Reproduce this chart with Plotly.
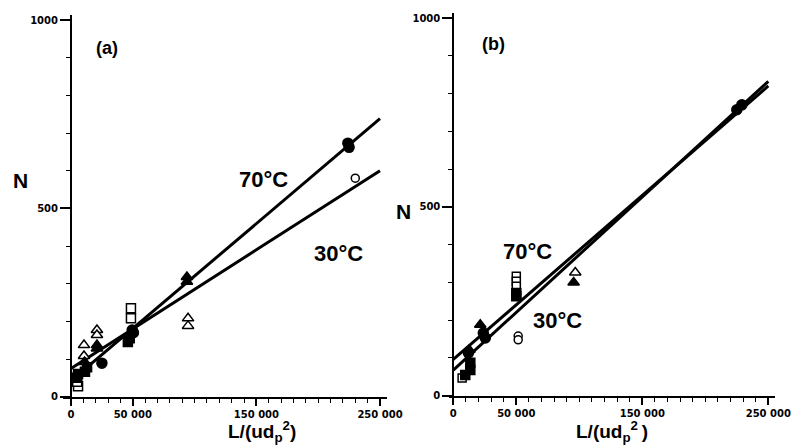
import plotly.graph_objects as go

W, H = 793, 447

# ---------------- data: panel (a) ----------------
a_fit_x = [0, 250000]
a_fit_70 = [42, 738]
a_fit_30 = [75, 600]
a_fill_circle_x = [224000, 225000, 49500, 50500, 25000]
a_fill_circle_y = [673, 662, 177, 170, 89]
a_open_circle_x = [230000]
a_open_circle_y = [580]
a_fill_square_x = [46000, 47500, 11300, 13000, 4800, 5700]
a_fill_square_y = [145, 155, 66, 78, 50, 60]
a_open_square_x = [48500, 48500, 5700, 5000]
a_open_square_y = [235, 208, 28, 40]
a_open_tri_x = [21000, 21000, 10500, 10500, 94700, 94700]
a_open_tri_y = [177, 164, 137, 108, 208, 188]
a_fill_tri_x = [93800, 93800, 21000, 21000, 11000]
a_fill_tri_y = [318, 305, 137, 128, 92]

# ---------------- data: panel (b) ----------------
b_fit_x = [0, 250000]
b_fit_70 = [96, 820]
b_fit_30 = [68, 832]
b_fill_circle_x = [225000, 229000, 25400, 23800, 12000]
b_fill_circle_y = [757, 770, 153, 166, 113]
b_open_circle_x = [51500, 51500]
b_open_circle_y = [158, 148]
b_open_square_x = [50000, 50000, 50000, 7000]
b_open_square_y = [316, 303, 290, 47]
b_fill_square_x = [50000, 50000, 13500, 13500, 9500]
b_fill_square_y = [272, 263, 68, 87, 55]
b_open_tri_x = [96800]
b_open_tri_y = [326]
b_fill_tri_x = [95500, 21400, 12700]
b_fill_tri_y = [300, 188, 121]

x_tickvals = [0, 50000, 150000, 250000]
x_ticktext = ["<b>0</b>", "<b>50 000</b>", "<b>150 000</b>", "<b>250 000</b>"]
y_tickvals = [0, 500, 1000]
y_ticktext = ["<b>0</b>", "<b>500</b>", "<b>1000</b>"]

fig = go.Figure()

def add_panel(xa, ya, fit_x, fit70, fit30, groups):
    for fy in (fit70, fit30):
        fig.add_trace(go.Scatter(x=fit_x, y=fy, mode="lines",
                                 line=dict(color="black", width=3),
                                 xaxis=xa, yaxis=ya, showlegend=False,
                                 hoverinfo="skip"))
    for gx, gy, sym, filled, size in groups:
        fig.add_trace(go.Scatter(
            x=gx, y=gy, mode="markers", xaxis=xa, yaxis=ya, showlegend=False,
            marker=dict(symbol=sym, size=size,
                        color="black" if filled else "white",
                        line=dict(color="black", width=1.5))))

add_panel("x", "y", a_fit_x, a_fit_70, a_fit_30, [
    (a_open_square_x, a_open_square_y, "square", False, 9),
    (a_fill_square_x, a_fill_square_y, "square", True, 9),
    (a_open_tri_x, a_open_tri_y, "triangle-up", False, 10),
    (a_fill_tri_x, a_fill_tri_y, "triangle-up", True, 10),
    (a_open_circle_x, a_open_circle_y, "circle", False, 8),
    (a_fill_circle_x, a_fill_circle_y, "circle", True, 10),
])
add_panel("x2", "y2", b_fit_x, b_fit_70, b_fit_30, [
    (b_open_square_x, b_open_square_y, "square", False, 8),
    (b_fill_square_x, b_fill_square_y, "square", True, 9),
    (b_open_tri_x, b_open_tri_y, "triangle-up", False, 10),
    (b_fill_tri_x, b_fill_tri_y, "triangle-up", True, 10),
    (b_open_circle_x, b_open_circle_y, "circle", False, 8),
    (b_fill_circle_x, b_fill_circle_y, "circle", True, 10),
])

tickfont = dict(family="DejaVu Sans", size=10, color="black")

def xaxis_cfg(dom_px, zero_px, px_per_unit, yref):
    x0 = (dom_px[0] - zero_px) / px_per_unit
    x1 = (dom_px[1] - zero_px) / px_per_unit
    return dict(domain=[dom_px[0] / W, dom_px[1] / W], range=[x0, x1],
                anchor=yref, automargin=False,
                showline=True, linecolor="black", linewidth=2,
                showgrid=False, zeroline=False, ticks="outside", ticklen=7,
                tickwidth=1.5, tickcolor="black", tickmode="array",
                tickvals=x_tickvals, ticktext=x_ticktext, tickfont=tickfont,
                minor=dict(tickmode="linear", tick0=0, dtick=10000,
                           ticks="outside", ticklen=4, tickwidth=1,
                           tickcolor="black", showgrid=False))

def yaxis_cfg(pos_px, bottom_px, top_px, px_per_unit):
    return dict(domain=[1 - bottom_px / H, 1 - top_px / H],
                range=[0, (bottom_px - top_px) / px_per_unit],
                anchor="free", position=pos_px / W, automargin=False,
                showline=True, linecolor="black", linewidth=2,
                showgrid=False, zeroline=False, ticks="outside", ticklen=10,
                tickwidth=1.5, tickcolor="black", tickmode="array",
                tickvals=y_tickvals, ticktext=y_ticktext, tickfont=tickfont,
                minor=dict(tickmode="linear", tick0=0, dtick=100,
                           ticks="outside", ticklen=4, tickwidth=1,
                           tickcolor="black", showgrid=False))

fig.update_layout(
    width=W, height=H, margin=dict(l=0, r=0, t=0, b=0, autoexpand=False),
    paper_bgcolor="white", plot_bgcolor="white",
    xaxis=xaxis_cfg((63, 387), 71, 309 / 250000, "y"),
    yaxis=yaxis_cfg(71, 396.7, 15, 0.3767),
    xaxis2=xaxis_cfg((449, 775), 453.3, 315 / 250000, "y2"),
    yaxis2=yaxis_cfg(453.3, 395.7, 13, 0.3777),
)

def ann(text, px, py, size, xanchor="center", yanchor="middle"):
    fig.add_annotation(text="<b>" + text + "</b>", x=px / W, y=1 - py / H,
                       xref="paper", yref="paper", showarrow=False,
                       xanchor=xanchor, yanchor=yanchor,
                       font=dict(family="Liberation Sans", size=size,
                                 color="black"))

ann("(a)", 107, 48, 18)
ann("(b)", 493, 44, 18)
ann("N", 20, 180, 21)
ann("N", 403, 211, 21)
ann("70°C", 263, 179, 22)
ann("30°C", 338, 253, 22)
ann("70°C", 527, 252, 22)
ann("30°C", 557, 320, 22)
ann("L/(ud<sub>p</sub><sup>2</sup>)", 262, 447, 19, yanchor="bottom")
ann("L/(ud<sub>p</sub><sup>2 </sup>)", 612, 447, 19, yanchor="bottom")

fig.write_html("out.html", config={"displayModeBar": False},
               post_script="document.body.style.margin='0';"
                           "document.body.style.overflow='hidden';")
